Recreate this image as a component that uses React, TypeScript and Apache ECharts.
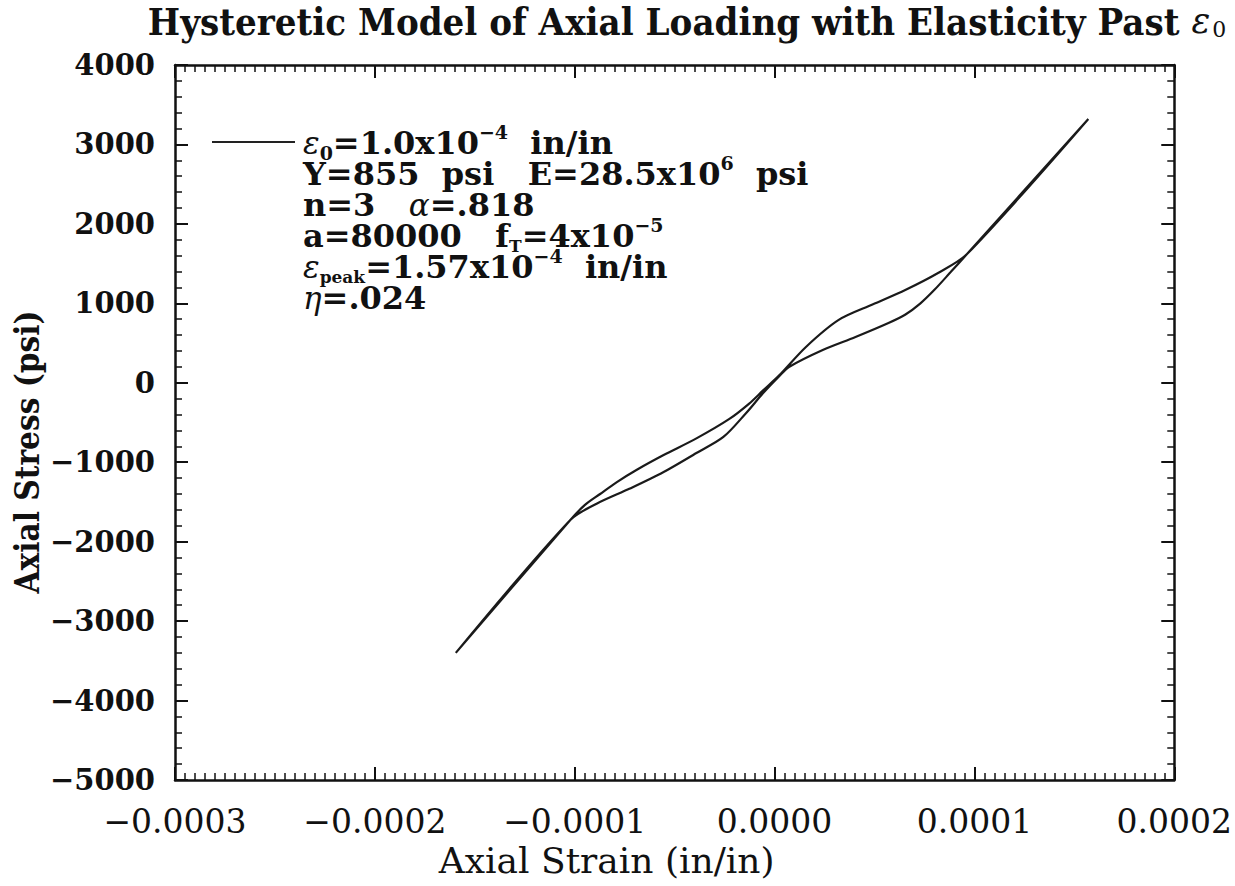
import React, { useEffect, useRef } from "react";
import * as echarts from "echarts";

// Loading branch (from negative peak up to positive peak)
const loadingStrain = [
  -1.595e-4, -1.022e-4, -0.95e-4, -0.873e-4, -0.789e-4, -0.689e-4, -0.555e-4,
  -0.391e-4, -0.226e-4, -0.127e-4, -0.057e-4, 0.022e-4, 0.157e-4, 0.321e-4,
  0.49e-4, 0.654e-4, 0.818e-4, 0.963e-4, 1.57e-4,
];
const loadingStress = [
  -3400, -1727, -1540, -1400, -1250, -1095, -910, -700, -455, -262, -95, 90,
  451, 791, 985, 1168, 1382, 1620, 3320,
];

// Unloading branch (from the upper junction down to the negative peak)
const unloadingStrain = [
  0.963e-4, 0.88e-4, 0.8e-4, 0.73e-4, 0.655e-4, 0.57e-4, 0.405e-4, 0.241e-4,
  0.072e-4, 0.022e-4, -0.057e-4, -0.142e-4, -0.256e-4, -0.391e-4, -0.555e-4,
  -0.724e-4, -0.888e-4, -1.022e-4, -1.595e-4,
];
const unloadingStress = [
  1620, 1390, 1170, 1000, 860, 753, 577, 413, 199, 80, -129, -380, -682, -884,
  -1123, -1332, -1520, -1727, -3400,
];

const legendLines = [
  "{g|ε}{sub|0}=1.0x10{sup|−4}  in/in",
  "Y=855  psi   E=28.5x10{sup|6}  psi",
  "n=3   {g|α}=.818",
  "a=80000   f{subs|T}=4x10{sup|−5}",
  "{g|ε}{subs|peak}=1.57x10{sup|−4}  in/in",
  "{g|η}=.024",
];

const titleText = "Hysteretic Model of Axial Loading with Elasticity Past {g|ε}{sub|0}";
const xAxisTitle = "Axial Strain (in/in)";
const yAxisTitle = "Axial Stress (psi)";

const SERIF = "DejaVu Serif";
const SERIF_C = "DejaVu Serif Condensed";

export default function App() {
  const ref = useRef<HTMLDivElement>(null);

  useEffect(() => {
    if (!ref.current) return;
    const chart = echarts.init(ref.current, undefined, { renderer: "svg" });

    const loop: number[][] = [];
    loadingStrain.forEach((x, i) => loop.push([x, loadingStress[i]]));
    unloadingStrain.forEach((x, i) => loop.push([x, unloadingStress[i]]));

    const LH = 31;
    const legendRich: any = {
      g: { fontFamily: SERIF, fontStyle: "italic", fontWeight: "normal", fontSize: 31, lineHeight: LH, verticalAlign: "middle" },
      sub: { fontFamily: SERIF, fontWeight: "bold", fontSize: 19, lineHeight: 8, verticalAlign: "top", padding: [16, 0, 0, 0] },
      subs: { fontFamily: SERIF, fontWeight: "bold", fontSize: 17, lineHeight: 8, verticalAlign: "top", padding: [17, 0, 0, 0] },
      sup: { fontFamily: SERIF, fontWeight: "bold", fontSize: 19, lineHeight: 8, verticalAlign: "bottom", padding: [0, 0, 17, 0] },
    };

    const axisLineStyle = { color: "#111", width: 2.5 };
    const tickStyle = { color: "#111", width: 2 };
    const minorStyle = { color: "#111", width: 1.5 };

    const fmtX = (v: number) => {
      const s = Math.abs(v).toFixed(4);
      return v < -1e-12 ? "−" + s : s;
    };
    const fmtY = (v: number) => (v < 0 ? "−" + Math.abs(v) : String(v));

    chart.setOption({
      animation: false,
      backgroundColor: "#fff",
      grid: { left: 175, right: 55, top: 65, bottom: 106, containLabel: false },
      graphic: [
        {
          type: "text",
          x: 687,
          y: 21,
          style: {
            text: titleText,
            fill: "#111",
            fontFamily: SERIF_C,
            fontWeight: "bold",
            fontSize: 38,
            lineHeight: 36,
            textAlign: "center",
            textVerticalAlign: "middle",
            rich: {
              g: { fontFamily: SERIF, fontStyle: "italic", fontWeight: "normal", fontSize: 35, lineHeight: 36 },
              sub: { fontFamily: SERIF, fontWeight: "normal", fontSize: 22, lineHeight: 10, verticalAlign: "top", padding: [15, 0, 0, 2] },
            },
          },
        },
        {
          type: "text",
          x: 27,
          y: 452,
          rotation: Math.PI / 2,
          style: {
            text: yAxisTitle,
            fill: "#111",
            fontFamily: SERIF_C,
            fontWeight: "bold",
            fontSize: 33,
            textAlign: "center",
            textVerticalAlign: "middle",
          },
        },
        {
          type: "line",
          shape: { x1: 212, y1: 142, x2: 295, y2: 142 },
          style: { stroke: "#222", lineWidth: 2 },
        },
        {
          type: "text",
          left: 303,
          top: 142 - LH / 2 - 4,
          style: {
            text: legendLines.join("\n"),
            fill: "#111",
            fontFamily: SERIF,
            fontWeight: "bold",
            fontSize: 32,
            lineHeight: LH,
            rich: legendRich,
          },
        },
      ],
      xAxis: [
        {
          type: "value",
          min: -0.0003,
          max: 0.0002,
          interval: 0.0001,
          position: "bottom",
          name: xAxisTitle,
          nameLocation: "middle",
          nameGap: 57,
          nameTextStyle: { fontFamily: SERIF, fontSize: 36, color: "#111", padding: [0, 136, 0, 0] },
          axisLine: { show: true, onZero: false, lineStyle: axisLineStyle },
          axisTick: { show: true, inside: true, length: 13, lineStyle: tickStyle },
          minorTick: { show: true, splitNumber: 20, length: 7, lineStyle: minorStyle },
          splitLine: { show: false },
          minorSplitLine: { show: false },
          axisLabel: { formatter: fmtX, fontFamily: SERIF, fontSize: 33, color: "#111", margin: 25 },
        },
        {
          type: "value",
          min: -0.0003,
          max: 0.0002,
          interval: 0.0001,
          position: "top",
          axisLine: { show: true, onZero: false, lineStyle: axisLineStyle },
          axisTick: { show: true, inside: true, length: 13, lineStyle: tickStyle },
          minorTick: { show: true, splitNumber: 20, length: 7, lineStyle: minorStyle },
          splitLine: { show: false },
          axisLabel: { show: false },
        },
      ],
      yAxis: [
        {
          type: "value",
          min: -5000,
          max: 4000,
          interval: 1000,
          position: "left",
          axisLine: { show: true, onZero: false, lineStyle: axisLineStyle },
          axisTick: { show: true, inside: true, length: 13, lineStyle: tickStyle },
          minorTick: { show: true, splitNumber: 5, length: 7, lineStyle: minorStyle },
          splitLine: { show: false },
          minorSplitLine: { show: false },
          axisLabel: { formatter: fmtY, fontFamily: SERIF, fontWeight: "bold", fontSize: 29, color: "#111", margin: 20 },
        },
        {
          type: "value",
          min: -5000,
          max: 4000,
          interval: 1000,
          position: "right",
          axisLine: { show: true, onZero: false, lineStyle: axisLineStyle },
          axisTick: { show: true, inside: true, length: 13, lineStyle: tickStyle },
          minorTick: { show: true, splitNumber: 5, length: 7, lineStyle: minorStyle },
          splitLine: { show: false },
          axisLabel: { show: false },
        },
      ],
      series: [
        {
          type: "line",
          name: "hysteresis",
          xAxisIndex: 0,
          yAxisIndex: 0,
          data: loop,
          showSymbol: false,
          symbol: "none",
          smooth: 0.3,
          lineStyle: { color: "#1a1a1a", width: 2.2 },
        },
      ],
    });

    return () => chart.dispose();
  }, []);

  return (
    <div
      ref={ref}
      style={{ position: "absolute", left: 0, top: 0, width: 1235, height: 886 }}
    />
  );
}
